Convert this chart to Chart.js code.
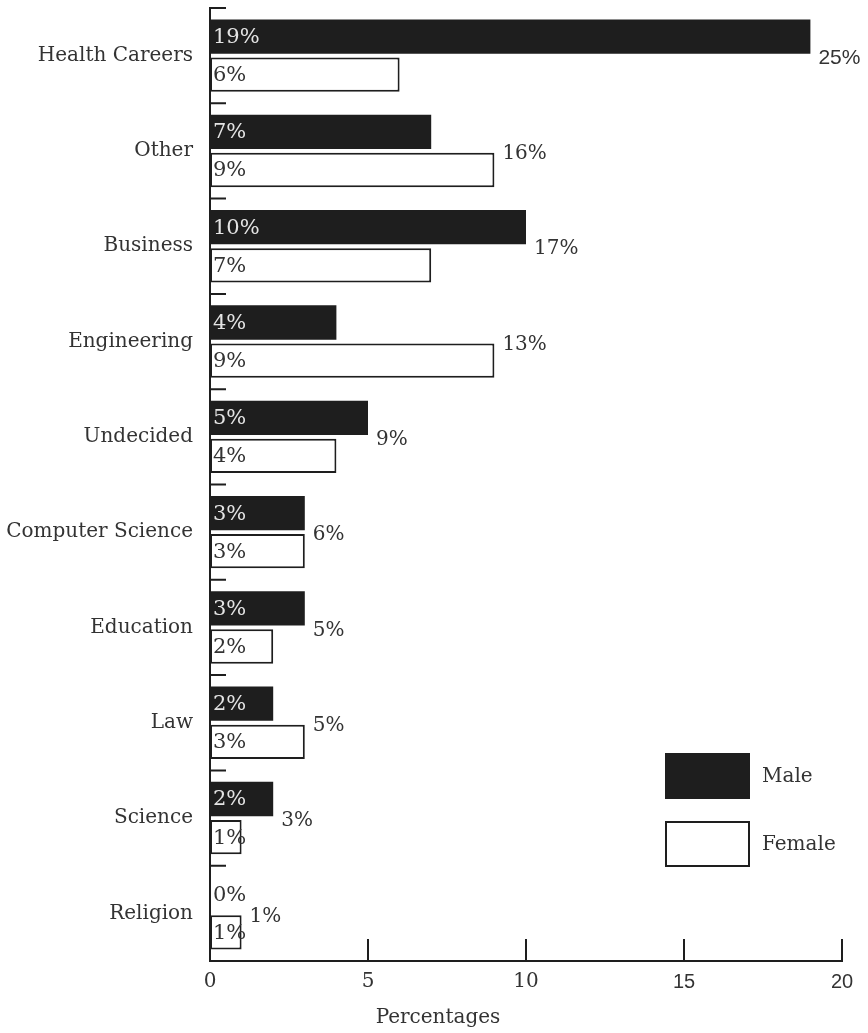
<!DOCTYPE html>
<html>
<head>
<meta charset="utf-8">
<script src="https://cdn.jsdelivr.net/npm/chart.js@4.4.0/dist/chart.umd.min.js"></script>
<style>
  html, body { margin: 0; padding: 0; background: #fff; }
</style>
</head>
<body>
<canvas id="majors_chart" width="868" height="1033"></canvas>
<script>
// data
const majors = ["Health Careers", "Other", "Business", "Engineering", "Undecided",
                "Computer Science", "Education", "Law", "Science", "Religion"];
const male_pct = [19, 7, 10, 4, 5, 3, 3, 2, 2, 0];
const female_pct = [6, 9, 7, 9, 4, 3, 2, 3, 1, 1];
const total_pct = [25, 16, 17, 13, 9, 6, 5, 5, 3, 1];
const x_ticks = [0, 5, 10, 15, 20];
const series_names = ["Male", "Female"];

const ink = "#1e1e1e";
const text_color = "#333";
const serif = "'DejaVu Serif', serif";
const sans = "'Liberation Sans', sans-serif";

const ctx = document.getElementById("majors_chart").getContext("2d");

// short inward tick marks on both axes
const inner_ticks = {
    id: "inner_ticks",
    afterDraw(chart) {
        const { ctx, chartArea, scales } = chart;
        const step = scales.y.getPixelForValue(1) - scales.y.getPixelForValue(0);
        ctx.save();
        ctx.strokeStyle = ink;
        ctx.lineWidth = 2;
        ctx.beginPath();
        majors.forEach((m, i) => {
            const py = scales.y.getPixelForValue(i) - step / 2;
            ctx.moveTo(chartArea.left, py);
            ctx.lineTo(chartArea.left + 16, py);
        });
        x_ticks.slice(1).forEach((v) => {
            const px = scales.x.getPixelForValue(v);
            ctx.moveTo(px, chartArea.bottom);
            ctx.lineTo(px, chartArea.bottom - 22);
        });
        ctx.stroke();
        ctx.restore();
    },
};

// percent labels inside bars + totals to the right
const bar_labels = {
    id: "bar_labels",
    afterDatasetsDraw(chart) {
        const { ctx, chartArea } = chart;
        ctx.save();
        ctx.textBaseline = "middle";
        ctx.textAlign = "left";
        ctx.font = "21px " + serif;
        chart.data.datasets.forEach((ds, di) => {
            chart.getDatasetMeta(di).data.forEach((bar, i) => {
                const v = ds.data[i];
                ctx.fillStyle = di === 0 && v > 0 ? "#e4e4e4" : text_color;
                ctx.fillText(v + "%", chartArea.left + 3, bar.y + 1);
            });
        });
        const m0 = chart.getDatasetMeta(0);
        const m1 = chart.getDatasetMeta(1);
        total_pct.forEach((t, i) => {
            const end = Math.max(m0.data[i].x, m1.data[i].x);
            const cy = (m0.data[i].y + m1.data[i].y) / 2;
            ctx.fillStyle = text_color;
            // the first total is set in a different face in the original
            ctx.font = (i === 0 ? "21px " + sans : "20px " + serif);
            ctx.fillText(t + "%", end + 8, cy + 3);
        });
        ctx.restore();
    },
};

// boxed legend in the lower right + axis title
const box_legend = {
    id: "box_legend",
    afterDraw(chart) {
        const { ctx, chartArea } = chart;
        const left = chartArea.right - 177;
        const top = chartArea.bottom - 208;
        ctx.save();
        ctx.font = "20px " + serif;
        ctx.textBaseline = "middle";
        ctx.textAlign = "left";
        series_names.forEach((name, i) => {
            const ds = chart.data.datasets[i];
            const y = top + i * 68;
            ctx.fillStyle = ds.backgroundColor;
            ctx.fillRect(left, y, 85, 46);
            if (ds.borderWidth) {
                ctx.strokeStyle = ds.borderColor;
                ctx.lineWidth = 2;
                ctx.strokeRect(left + 1, y + 1, 83, 44);
            }
            ctx.fillStyle = text_color;
            ctx.fillText(name, left + 97, y + 24);
        });
        ctx.textAlign = "center";
        ctx.fillText("Percentages", 438, chart.height - 15);
        ctx.restore();
    },
};

new Chart(ctx, {
    type: "bar",
    data: {
        labels: majors,
        datasets: [
            {
                label: series_names[0],
                data: male_pct,
                backgroundColor: ink,
                borderColor: ink,
                borderWidth: 0,
            },
            {
                label: series_names[1],
                data: female_pct,
                backgroundColor: "#fff",
                borderColor: ink,
                borderWidth: 2,
                borderSkipped: false,
            },
        ],
    },
    options: {
        indexAxis: "y",
        responsive: false,
        animation: false,
        categoryPercentage: 0.8,
        barPercentage: 0.9,
        layout: { padding: { top: 8, right: 26, left: 0, bottom: 0 } },
        plugins: {
            legend: { display: false },
            tooltip: { enabled: false },
        },
        scales: {
            x: {
                min: 0,
                max: 20,
                afterBuildTicks: (scale) => {
                    scale.ticks = x_ticks.map((v) => ({ value: v }));
                },
                afterFit: (scale) => {
                    scale.height = 72;
                },
                grid: { display: false, drawTicks: false },
                border: { display: true, color: ink, width: 2 },
                ticks: {
                    padding: 9,
                    color: text_color,
                    font: (c) => ({
                        family: c.tick && c.tick.value >= 15 ? sans : serif,
                        size: 20,
                    }),
                },
            },
            y: {
                afterFit: (scale) => {
                    scale.width = 210;
                    scale.paddingTop = 0;
                    scale.paddingBottom = 0;
                },
                grid: { display: false, drawTicks: false },
                border: { display: true, color: ink, width: 2 },
                ticks: {
                    padding: 17,
                    color: text_color,
                    font: { family: serif, size: 20 },
                },
            },
        },
    },
    plugins: [inner_ticks, bar_labels, box_legend],
});
</script>
</body>
</html>
